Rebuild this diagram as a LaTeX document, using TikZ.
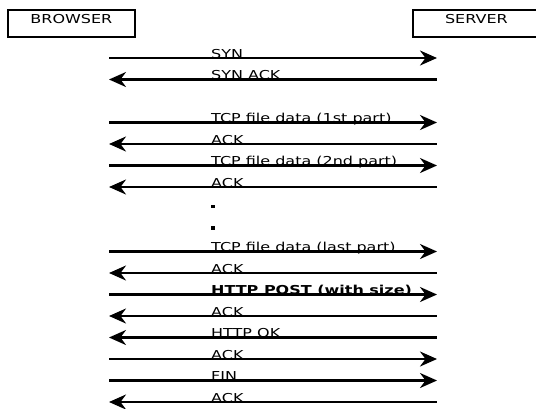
\documentclass[tikz,border=0pt]{standalone}
\usepackage{fontspec}
\setmainfont{DejaVu Sans}[FakeStretch=1.3]
\usetikzlibrary{arrows.meta}

\tikzset{
  msg/.style={line width=2.3pt, arrows={-Stealth[length=17pt, width=15pt, inset=5.5pt]}},
  back/.style={line width=2.3pt, arrows={Stealth[length=17pt, width=15pt, inset=5.5pt]-}},
  lbl/.style={pos=0.308, anchor=base west, inner sep=0pt},
  party/.style={draw=black, line width=1.8pt, minimum width=127pt, text height=9pt, text depth=8pt, inner ysep=5pt, inner xsep=0pt},
  dot/.style={fill=black, inner sep=0pt, minimum size=3.8pt}
}

\begin{document}
\begin{tikzpicture}[x=1pt, y=-1pt, font=\fontsize{12.3}{14}\selectfont]
	\useasboundingbox (0,0) rectangle (536,408);

	% the two ends of the connection
	\node[party, anchor=north west] (browser) at (7,9) {BROWSER};
	\node[party, anchor=north west] (server) at (412,9) {SERVER};

	% one row of end points per message
	\foreach \k in {0,...,16} {
		\coordinate (b\k) at (109, 58+21.5*\k);
		\coordinate (s\k) at (437, 58+21.5*\k);
	}

	% handshake
	\draw[msg] (b0) -- (s0) node[lbl] {SYN};
	\draw[back] (b1) -- (s1) node[lbl] {SYN ACK};

	% file data, acked part by part
	\draw[msg] (b3) -- (s3) node[lbl] {TCP file data (1st part)};
	\draw[back] (b4) -- (s4) node[lbl] {ACK};
	\draw[msg] (b5) -- (s5) node[lbl] {TCP file data (2nd part)};
	\draw[back] (b6) -- (s6) node[lbl] {ACK};

	\node[dot] (gap1) at (213, 58+21.5*7-2) {};
	\node[dot] (gap2) at (213, 58+21.5*8-2) {};

	\draw[msg] (b9) -- (s9) node[lbl] {TCP file data (last part)};
	\draw[back] (b10) -- (s10) node[lbl] {ACK};

	% request, reply and close
	\draw[msg] (b11) -- (s11) node[lbl] {\textbf{HTTP POST (with size)}};
	\draw[back] (b12) -- (s12) node[lbl] {ACK};
	\draw[back] (b13) -- (s13) node[lbl] {HTTP OK};
	\draw[msg] (b14) -- (s14) node[lbl] {ACK};
	\draw[msg] (b15) -- (s15) node[lbl] {FIN};
	\draw[back] (b16) -- (s16) node[lbl] {ACK};

\end{tikzpicture}
\end{document}
